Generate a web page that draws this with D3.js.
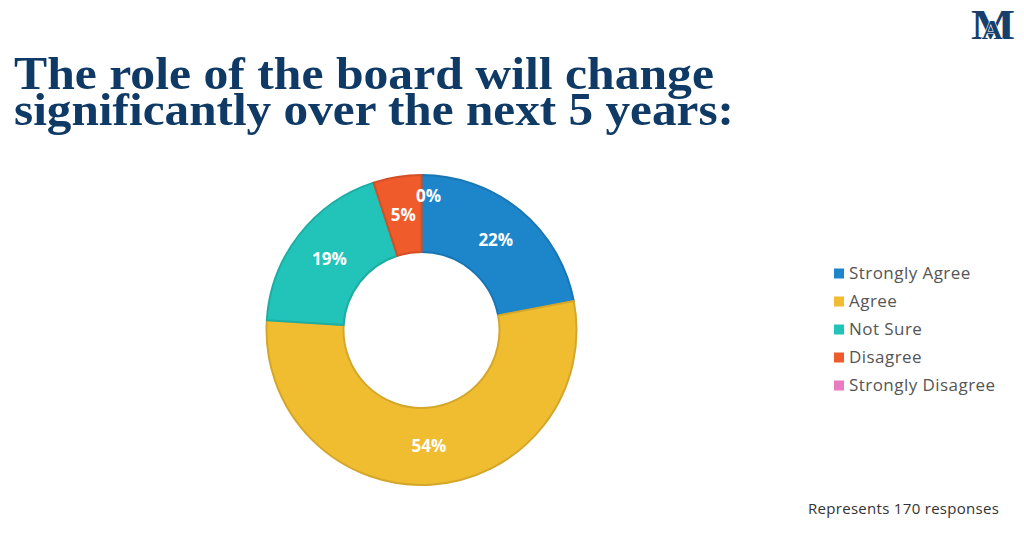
<!DOCTYPE html>
<html>
<head>
<meta charset="utf-8">
<script src="https://cdn.jsdelivr.net/npm/d3@7"></script>
<style>
  html, body { margin: 0; padding: 0; background: #fff; }
  svg { display: block; }
</style>
</head>
<body>
<svg id="chart" width="1024" height="534"></svg>
<script>
const categories = ["Strongly Agree", "Agree", "Not Sure", "Disagree", "Strongly Disagree"];
const values = [22, 54, 19, 5, 0];
const colors = ["#1d86cb", "#f0bd30", "#22c4b9", "#ef5b2b", "#e97cc0"];
const titleLines = ["The role of the board will change", "significantly over the next 5 years:"];
const footnote = "Represents 170 responses";

const svg = d3.select("#chart");

// Title
const titleWidths = [700, 720];
svg.selectAll("text.title").data(titleLines).enter().append("text")
  .attr("class", "title")
  .attr("x", 14)
  .attr("y", (d, i) => 89 + i * 36)
  .attr("textLength", (d, i) => titleWidths[i])
  .attr("lengthAdjust", "spacingAndGlyphs")
  .style("font-family", "'Liberation Serif', serif")
  .style("font-weight", "bold")
  .style("font-size", "47px")
  .style("fill", "#0f3a66")
  .text(d => d);

// Logo monogram (M with interlaced A)
const logo = svg.append("text")
  .attr("x", 971).attr("y", 39)
  .attr("textLength", 44).attr("lengthAdjust", "spacingAndGlyphs")
  .style("font-family", "'Liberation Serif', serif").style("font-weight", "bold")
  .style("font-size", "43px").style("fill", "#163f6e");
logo.append("tspan").text("M");
logo.append("tspan").attr("dx", -31).attr("dy", 0)
  .style("font-size", "27px").style("stroke", "#fff").style("stroke-width", 1)
  .style("paint-order", "stroke").text("A");

// Donut
const cx = 421.5, cy = 330, rOuter = 155, rInner = 78;
const pie = d3.pie().sort(null).value(d => d.v);
const data = categories.map((c, i) => ({ c, v: values[i], col: colors[i] }));
const arcs = pie(data);
const arc = d3.arc().innerRadius(rInner).outerRadius(rOuter);
const g = svg.append("g").attr("transform", `translate(${cx},${cy})`);

g.selectAll("path").data(arcs).enter().append("path")
  .attr("d", arc)
  .attr("fill", d => d.data.col)
  .attr("stroke", d => d3.color(d.data.col).darker(0.35))
  .attr("stroke-width", d => d.data.v > 0 ? 2 : 0)
  .attr("stroke-linejoin", "round");

const labelArc = d3.arc().innerRadius(rInner).outerRadius(rOuter);
const zeroArc = d3.arc().innerRadius(rOuter - 42).outerRadius(rOuter);
g.selectAll("text.lbl").data(arcs).enter().append("text")
  .attr("class", "lbl")
  .attr("transform", d => {
    const p = d.data.v === 0 ? zeroArc.centroid(d) : labelArc.centroid(d);
    const dx = d.data.v === 0 ? 7 : 0;
    return `translate(${p[0] + dx},${p[1]})`;
  })
  .attr("text-anchor", "middle")
  .attr("dy", "0.36em")
  .style("font-family", "'Open Sans', sans-serif")
  .style("font-weight", "bold")
  .style("font-size", "17px")
  .style("fill", "#fff")
  .text(d => d.data.v + "%");

// Legend
const legend = svg.append("g").attr("transform", "translate(834,279)");
const rows = legend.selectAll("g").data(data).enter().append("g")
  .attr("transform", (d, i) => `translate(0,${i * 28})`);
rows.append("rect").attr("x", 0).attr("y", -10.5).attr("width", 10).attr("height", 10)
  .attr("fill", d => d.col);
rows.append("text").attr("x", 15).attr("y", 0)
  .style("font-family", "'Open Sans', sans-serif")
  .style("font-size", "17px")
  .style("letter-spacing", "0.45px")
  .style("fill", "#555")
  .text(d => d.c);

// Footnote
svg.append("text")
  .attr("x", 808).attr("y", 514)
  .style("font-family", "'Open Sans', sans-serif")
  .style("font-size", "15px")
  .style("letter-spacing", "0.3px")
  .style("fill", "#333")
  .text(footnote);
</script>
</body>
</html>
